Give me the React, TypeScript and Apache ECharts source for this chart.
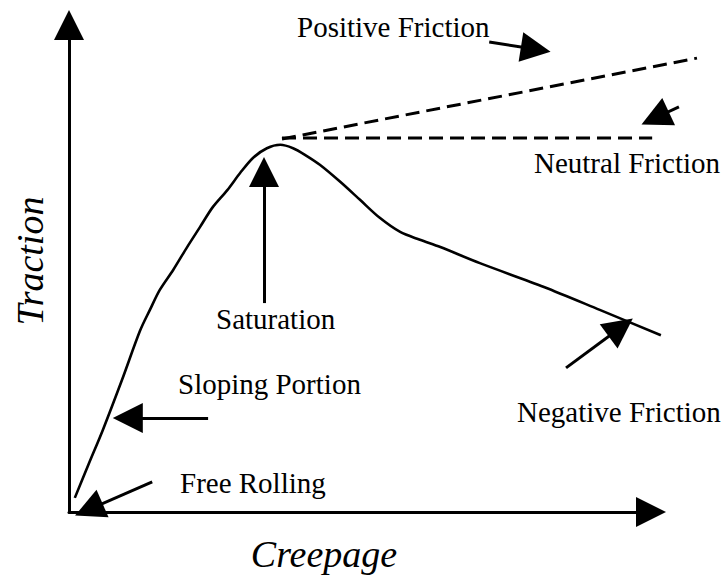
import React, { useEffect, useRef } from "react";
import * as echarts from "echarts";

// Traction vs creepage curve (schematic units: 0–100 on both axes)
const curveCreepage = [1.0, 3.4, 5.8, 9.1, 12.2, 13.9, 15.6, 17.9, 20.3, 22.5, 24.7, 27.2, 29.4, 31.6, 34.0, 36.3, 38.5, 40.6, 43.1, 46.6, 50.0, 53.4, 56.9, 60.3, 63.8, 70.6, 81.6, 91.2, 101.7];
const curveTraction = [2.9, 9.9, 16.8, 27.1, 37.2, 41.5, 45.6, 49.7, 54.4, 58.5, 62.6, 66.1, 69.6, 72.7, 74.7, 75.4, 74.7, 73.3, 71.3, 67.8, 64.1, 60.4, 57.5, 55.9, 54.4, 51.1, 46.2, 41.5, 36.3];

// Dashed friction branches: [start, end]
const positiveFriction = [[36.6, 76.6], [107.9, 93.2]];
const neutralFriction = [[36.6, 76.8], [100.2, 76.8]];

// Annotation arrows: tail -> arrowhead centre
const arrowNames = ["Positive Friction", "Neutral Friction", "Saturation", "Sloping Portion", "Free Rolling", "Negative Friction"];
const arrowTails = [[72.2, 96.5], [104.8, 83.2], [33.5, 42.9], [23.9, 19.3], [14.3, 6.2], [85.4, 29.6]];
const arrowHeads = [[80.2, 95.0], [100.7, 80.9], [33.5, 69.8], [10.1, 19.3], [3.4, 0.5], [94.8, 37.9]];

const axisTitleX = "Creepage";
const axisTitleY = "Traction";

export default function App() {
  const ref = useRef<HTMLDivElement>(null);
  useEffect(() => {
    if (!ref.current) return;
    const chart = echarts.init(ref.current, null, { renderer: "svg" });
    const family = "Liberation Serif";
    const label = (text: string, x: number, y: number, extra: any = {}) => ({
      type: "text",
      x,
      y,
      silent: true,
      rotation: extra.rotation || 0,
      style: {
        text,
        fontFamily: family,
        fontSize: extra.size || 29,
        fontStyle: extra.italic ? "italic" : "normal",
        fill: "#000",
        align: extra.align || "left",
        textAlign: extra.align || "left",
        verticalAlign: "middle",
        textVerticalAlign: "middle",
      },
    });
    const hidden = {
      axisLine: { show: false },
      axisTick: { show: false },
      axisLabel: { show: false },
      splitLine: { show: false },
    };
    const visibleAxis = {
      type: "value",
      min: 0,
      max: 100,
      axisLine: {
        show: true,
        onZero: false,
        symbol: ["none", "triangle"],
        symbolSize: [30, 30],
        lineStyle: { color: "#000", width: 3 },
      },
      axisTick: { show: false },
      axisLabel: { show: false },
      splitLine: { show: false },
    };
    chart.setOption({
      animation: false,
      backgroundColor: "#fff",
      grid: [
        { left: 69, top: 25, right: 77, bottom: 67, containLabel: false },
        // same scale, wider plotting area so marks may run past the axis arrow
        { left: 69, top: 25, right: 18.8, bottom: 67, containLabel: false },
      ],
      xAxis: [
        { ...visibleAxis, gridIndex: 0 },
        { type: "value", min: 0, max: 110, gridIndex: 1, ...hidden },
      ],
      yAxis: [
        { ...visibleAxis, gridIndex: 0 },
        { type: "value", min: 0, max: 100, gridIndex: 1, ...hidden },
      ],
      series: [
        {
          type: "line",
          name: "Traction",
          xAxisIndex: 1,
          yAxisIndex: 1,
          data: curveCreepage.map((x, i) => [x, curveTraction[i]]),
          smooth: 0.3,
          showSymbol: false,
          clip: false,
          lineStyle: { color: "#000", width: 2.6 },
        },
        {
          type: "line",
          name: "Positive Friction",
          xAxisIndex: 1,
          yAxisIndex: 1,
          data: positiveFriction,
          showSymbol: false,
          clip: false,
          lineStyle: { color: "#000", width: 3, type: [14, 7] },
        },
        {
          type: "line",
          name: "Neutral Friction",
          xAxisIndex: 1,
          yAxisIndex: 1,
          data: neutralFriction,
          showSymbol: false,
          clip: false,
          lineStyle: { color: "#000", width: 3, type: [14, 7] },
        },
        {
          type: "lines",
          coordinateSystem: "cartesian2d",
          xAxisIndex: 1,
          yAxisIndex: 1,
          clip: false,
          symbol: ["none", "triangle"],
          symbolSize: 30,
          lineStyle: { color: "#000", width: 3, curveness: 0, opacity: 1 },
          data: arrowNames.map((n, i) => ({ name: n, coords: [arrowTails[i], arrowHeads[i]] })),
        },
      ],
      graphic: [
        label("Positive Friction", 297, 26.5),
        label("Neutral Friction", 534, 163),
        label("Saturation", 216, 319),
        label("Sloping Portion", 178, 384),
        label("Free Rolling", 180, 482.5),
        label("Negative Friction", 517, 412),
        label(axisTitleX, 324, 554, { size: 38, italic: true, align: "center" }),
        label(axisTitleY, 30, 261, { size: 38, italic: true, align: "center", rotation: Math.PI / 2 }),
      ],
    });
    return () => chart.dispose();
  }, []);
  return (
    <div
      ref={ref}
      style={{ position: "fixed", left: 0, top: 0, width: 728, height: 579, background: "#fff" }}
    />
  );
}
